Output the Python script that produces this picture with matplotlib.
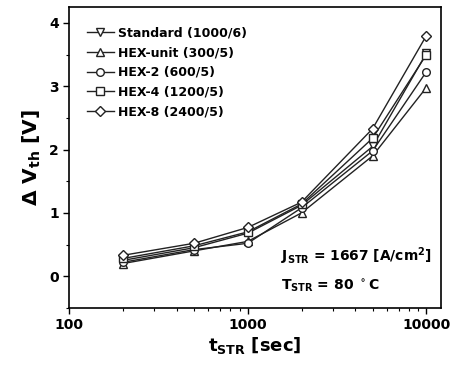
import matplotlib
matplotlib.use('Agg')
import matplotlib.pyplot as plt
import numpy as np

# stress time (s) and threshold voltage shift (V)
t_str = [200, 500, 1000, 2000, 5000, 10000]
labels = ['Standard (1000/6)', 'HEX-unit (300/5)', 'HEX-2 (600/5)',
          'HEX-4 (1200/5)', 'HEX-8 (2400/5)']
standard = [0.25, 0.45, 0.68, 1.12, 2.05, 3.52]
hex_unit = [0.20, 0.40, 0.55, 1.00, 1.90, 2.98]
hex_2 = [0.22, 0.42, 0.52, 1.08, 1.98, 3.23]
hex_4 = [0.28, 0.48, 0.70, 1.14, 2.18, 3.50]
hex_8 = [0.33, 0.52, 0.77, 1.17, 2.33, 3.80]

series = [standard, hex_unit, hex_2, hex_4, hex_8]
markers = ['v', '^', 'o', 's', 'D']
msizes = [6, 6, 5.5, 5.5, 5.5]

plt.rcParams['font.family'] = 'DejaVu Sans'
plt.rcParams['font.weight'] = 'bold'

fig = plt.figure(figsize=(4.52, 3.75), dpi=100)
ax = fig.add_axes([0.153, 0.179, 0.823, 0.802])

for vals, lab, m, ms in zip(series, labels, markers, msizes):
    ax.plot(t_str, vals, color='#222222', lw=1.0, marker=m, ms=ms,
            mfc='white', mec='#222222', mew=1.0, label=lab)

ax.set_xscale('log')
ax.set_xlim(100, 12100)
ax.set_ylim(-0.5, 4.25)
ax.set_yticks([0, 1, 2, 3, 4])
ax.set_yticks(np.arange(-0.5, 4.25, 0.5), minor=True)
ax.set_xticks([100, 1000, 10000])
ax.set_xticklabels(['100', '1000', '10000'])
ax.tick_params(labelsize=10, width=1, length=4, direction='out')
ax.tick_params(which='minor', length=2.5, width=0.8)
for s in ax.spines.values():
    s.set_linewidth(1.2)

ax.set_xlabel(r'$\mathbf{t_{STR}}$ [sec]', fontsize=13, fontweight='bold', labelpad=2)
ax.set_ylabel(r'$\mathbf{\Delta\ V_{th}}$ [V]', fontsize=14.5, fontweight='bold', labelpad=4)

leg = ax.legend(loc='upper left', frameon=False, fontsize=9,
                handlelength=2.2, handletextpad=0.3, labelspacing=0.55,
                borderaxespad=0.4, bbox_to_anchor=(0.02, 0.97))

ax.text(0.57, 0.155, r'$\mathbf{J_{STR}}$ = 1667 [A/cm$\mathbf{^2}$]',
        transform=ax.transAxes, fontsize=10, fontweight='bold')
ax.text(0.57, 0.06, r'$\mathbf{T_{STR}}$ = 80 $\mathbf{^\circ}$C',
        transform=ax.transAxes, fontsize=10, fontweight='bold')

fig.savefig('out.png', dpi=100)
